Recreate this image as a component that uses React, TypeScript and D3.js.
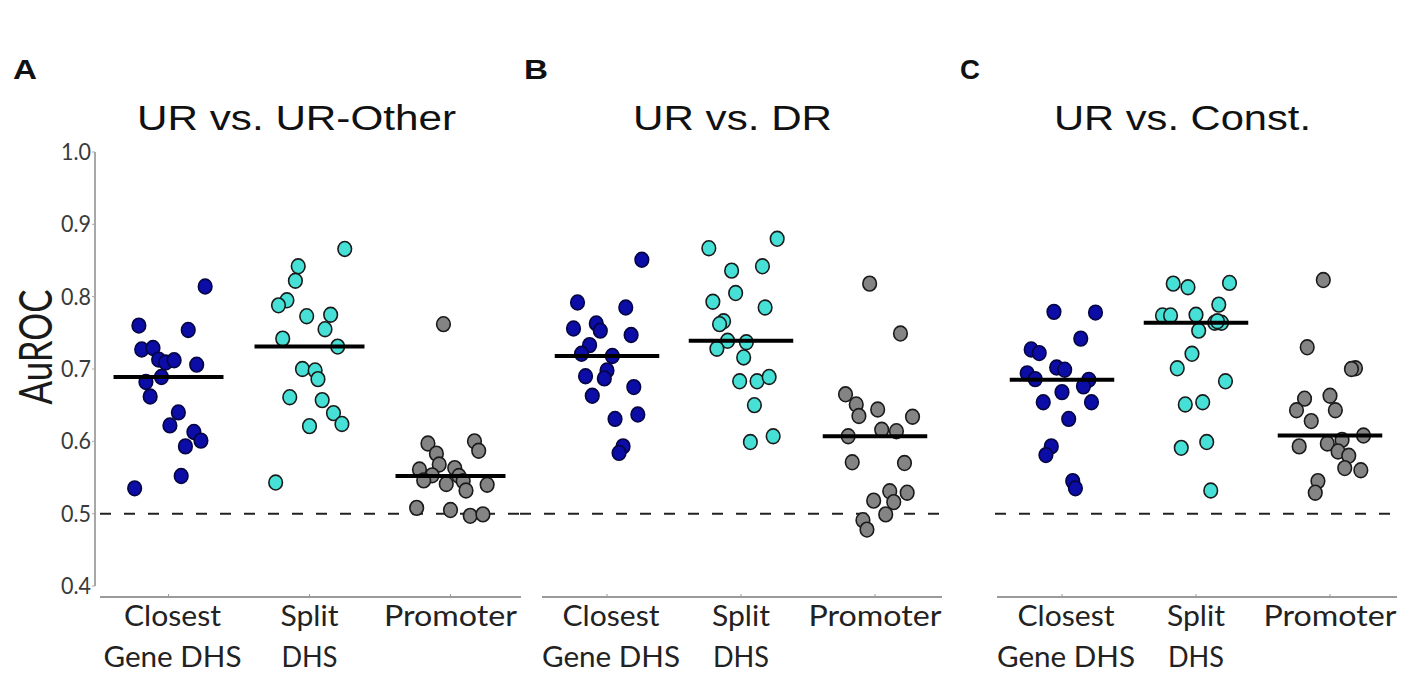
import React from "react";
import * as d3 from "d3";

// AuROC of each model run: [auroc, horizontal jitter in category units]
const aClosest: [number, number][] = [
  [0.814, 0.26], [0.760, -0.21], [0.754, 0.14], [0.727, -0.19], [0.729, -0.11], [0.713, -0.07], [0.709, -0.02],
  [0.712, 0.04], [0.706, 0.20], [0.689, -0.05], [0.682, -0.16], [0.662, -0.13], [0.640, 0.07], [0.622, 0.01],
  [0.613, 0.18], [0.601, 0.23], [0.593, 0.12], [0.552, 0.09], [0.535, -0.24],
];
const aSplit: [number, number][] = [
  [0.866, 0.25], [0.842, -0.08], [0.822, -0.10], [0.795, -0.16], [0.788, -0.22], [0.773, -0.02], [0.775, 0.15],
  [0.755, 0.11], [0.742, -0.19], [0.731, 0.20], [0.700, -0.05], [0.698, 0.04], [0.686, 0.06], [0.661, -0.14],
  [0.657, 0.09], [0.639, 0.17], [0.624, 0.23], [0.621, 0.00], [0.543, -0.24],
];
const aPromoter: [number, number][] = [
  [0.762, -0.05], [0.597, -0.16], [0.600, 0.17], [0.587, 0.20], [0.583, -0.10], [0.568, -0.08], [0.561, -0.22],
  [0.553, -0.13], [0.563, 0.03], [0.552, 0.06], [0.546, -0.19], [0.541, -0.03], [0.545, 0.09], [0.540, 0.26],
  [0.532, 0.11], [0.508, -0.24], [0.505, 0.00], [0.497, 0.14], [0.499, 0.23],
];
const bClosest: [number, number][] = [
  [0.851, 0.26], [0.792, -0.22], [0.785, 0.14], [0.756, -0.25], [0.763, -0.08], [0.753, -0.05], [0.747, 0.18],
  [0.733, -0.13], [0.721, -0.19], [0.718, 0.04], [0.690, -0.16], [0.698, 0.00], [0.687, -0.02], [0.663, -0.11],
  [0.675, 0.20], [0.631, 0.06], [0.637, 0.23], [0.593, 0.12], [0.584, 0.09],
];
const bSplit: [number, number][] = [
  [0.880, 0.27], [0.867, -0.24], [0.836, -0.07], [0.842, 0.16], [0.805, -0.04], [0.793, -0.21], [0.785, 0.18],
  [0.766, -0.13], [0.762, -0.16], [0.739, -0.10], [0.737, 0.04], [0.728, -0.18], [0.716, 0.02], [0.683, -0.01],
  [0.683, 0.12], [0.689, 0.21], [0.650, 0.10], [0.599, 0.07], [0.607, 0.24],
];
const bPromoter: [number, number][] = [
  [0.818, -0.04], [0.749, 0.19], [0.665, -0.22], [0.651, -0.14], [0.635, -0.12], [0.644, 0.02], [0.634, 0.28],
  [0.616, 0.05], [0.614, 0.16], [0.607, -0.20], [0.571, -0.17], [0.570, 0.22], [0.531, 0.11], [0.529, 0.24],
  [0.518, -0.01], [0.516, 0.14], [0.499, 0.08], [0.491, -0.09], [0.478, -0.06],
];
const cClosest: [number, number][] = [
  [0.779, -0.06], [0.778, 0.25], [0.742, 0.14], [0.727, -0.23], [0.722, -0.17], [0.702, -0.04], [0.699, 0.02],
  [0.694, -0.26], [0.686, -0.20], [0.685, 0.20], [0.676, 0.16], [0.668, 0.00], [0.654, -0.14], [0.654, 0.22],
  [0.631, 0.05], [0.593, -0.08], [0.581, -0.12], [0.545, 0.08], [0.535, 0.10],
];
const cSplit: [number, number][] = [
  [0.818, -0.17], [0.813, -0.06], [0.819, 0.25], [0.789, 0.17], [0.774, -0.25], [0.774, -0.19], [0.775, 0.00],
  [0.764, 0.14], [0.764, 0.19], [0.766, 0.16], [0.753, 0.02], [0.721, -0.03], [0.701, -0.14], [0.683, 0.22],
  [0.651, -0.08], [0.654, 0.05], [0.591, -0.11], [0.599, 0.08], [0.532, 0.11],
];
const cPromoter: [number, number][] = [
  [0.823, -0.05], [0.730, -0.17], [0.701, 0.19], [0.700, 0.16], [0.659, -0.19], [0.663, 0.00], [0.643, -0.25],
  [0.643, 0.04], [0.628, -0.14], [0.608, 0.25], [0.602, 0.09], [0.593, -0.23], [0.597, -0.02], [0.586, 0.06],
  [0.580, 0.14], [0.563, 0.11], [0.560, 0.23], [0.545, -0.09], [0.529, -0.11],
];

const panelTitles = ["UR vs. UR-Other", "UR vs. DR", "UR vs. Const."];
const panelLetters = ["A", "B", "C"];
const categoryLabels = [["Closest", "Gene DHS"], ["Split", "DHS"], ["Promoter"]];
const yTicks = [0.4, 0.5, 0.6, 0.7, 0.8, 0.9, 1.0];
const chance = 0.5;
const categoryColors = ["#0c0ca6", "#46e0d6", "#848484"];

const panelData = [
  [aClosest, aSplit, aPromoter],
  [bClosest, bSplit, bPromoter],
  [cClosest, cSplit, cPromoter],
];

// layout
const W = 1418;
const H = 675;
const panelRanges: [number, number][] = [[98, 521], [540, 942], [995, 1397]];
const dashRanges: [number, number][] = [[100, 520], [520, 947], [995, 1397]];
const titleCenters = [296.5, 732.5, 1182.5];
const titleWidths = [319, 199, 257];
const letterX = [13, 524, 960];
const catWidths = [[97, 138], [58, 56], [133]];
const spineY = 597;
const yAxisX = 95;

const y = d3.scaleLinear().domain([0.4, 1.0]).range([586, 152]);

const Panel: React.FC<{ idx: number }> = ({ idx }) => {
  const [x0, x1] = panelRanges[idx];
  const x = d3.scaleLinear().domain([-0.5, 2.5]).range([x0, x1]);
  const groups = panelData[idx];
  return (
    <g>
      <text
        x={letterX[idx]}
        y={79}
        fontFamily="Liberation Sans, Arial, sans-serif"
        fontWeight="bold"
        fontSize={28}
        textLength={idx === 2 ? 20 : 24}
        lengthAdjust="spacingAndGlyphs"
        fill="#111"
      >
        {panelLetters[idx]}
      </text>
      <text
        x={titleCenters[idx]}
        y={130}
        textAnchor="middle"
        fontFamily="Liberation Sans, Arial, sans-serif"
        fontSize={35}
        textLength={titleWidths[idx]}
        lengthAdjust="spacingAndGlyphs"
        fill="#111"
      >
        {panelTitles[idx]}
      </text>

      {/* bottom spine with category ticks */}
      <line x1={x0 + 2} x2={x1} y1={spineY} y2={spineY} stroke="#9a9a9a" strokeWidth={2} />
      {groups.map((_, i) => (
        <line key={i} x1={x(i)} x2={x(i)} y1={spineY} y2={spineY - 3} stroke="#9a9a9a" strokeWidth={1} />
      ))}

      {/* chance level */}
      <line
        x1={dashRanges[idx][0]}
        x2={dashRanges[idx][1]}
        y1={y(chance)}
        y2={y(chance)}
        stroke="#222"
        strokeWidth={2}
        strokeDasharray="11 13"
      />

      {groups.map((pts, i) => (
        <g key={i}>
          {pts.map(([v, j], k) => (
            <ellipse
              key={k}
              cx={x(i + j)}
              cy={y(v)}
              rx={6.8}
              ry={7.4}
              fill={categoryColors[i]}
              stroke={i === 0 ? "#050540" : "#1a1a1a"}
              strokeWidth={1.6}
            />
          ))}
        </g>
      ))}

      {groups.map((pts, i) => {
        const med = d3.median(pts, (p) => p[0]) as number;
        return (
          <line key={i} x1={x(i - 0.39)} x2={x(i + 0.39)} y1={y(med)} y2={y(med)} stroke="#000" strokeWidth={4} />
        );
      })}

      {categoryLabels.map((lines, i) =>
        lines.map((t, li) => (
          <text
            key={`${i}-${li}`}
            x={x(i) + (i === 0 ? 4 : 0)}
            y={626 + li * 41}
            textAnchor="middle"
            fontFamily="Lato, Open Sans, sans-serif"
            fontSize={28}
            textLength={catWidths[i][li]}
            lengthAdjust="spacingAndGlyphs"
            fill="#222"
          >
            {t}
          </text>
        ))
      )}
    </g>
  );
};

export default function App() {
  return (
    <svg
      width={W}
      height={H}
      viewBox={`0 0 ${W} ${H}`}
      style={{ position: "absolute", left: 0, top: 0, background: "#fff" }}
    >
      <rect x={0} y={0} width={W} height={H} fill="#fff" />

      {/* y axis */}
      <line x1={yAxisX} x2={yAxisX} y1={y(1.0)} y2={y(0.4)} stroke="#a8a8a8" strokeWidth={2} />
      {yTicks.map((t) => (
        <g key={t}>
          <line x1={yAxisX - 3} x2={yAxisX} y1={y(t)} y2={y(t)} stroke="#a8a8a8" strokeWidth={1} />
          <text
            x={91}
            y={y(t) + 8}
            textAnchor="end"
            fontFamily="Lato, Open Sans, sans-serif"
            fontSize={24}
            textLength={30}
            lengthAdjust="spacingAndGlyphs"
            fill="#3a3a3a"
          >
            {t.toFixed(1)}
          </text>
        </g>
      ))}
      <text
        transform="translate(52,347) rotate(-90)"
        textAnchor="middle"
        fontFamily="Lato, Open Sans, sans-serif"
        fontSize={46}
        textLength={115}
        lengthAdjust="spacingAndGlyphs"
        fill="#1a1a1a"
      >
        AuROC
      </text>

      {[0, 1, 2].map((i) => (
        <Panel key={i} idx={i} />
      ))}
    </svg>
  );
}
